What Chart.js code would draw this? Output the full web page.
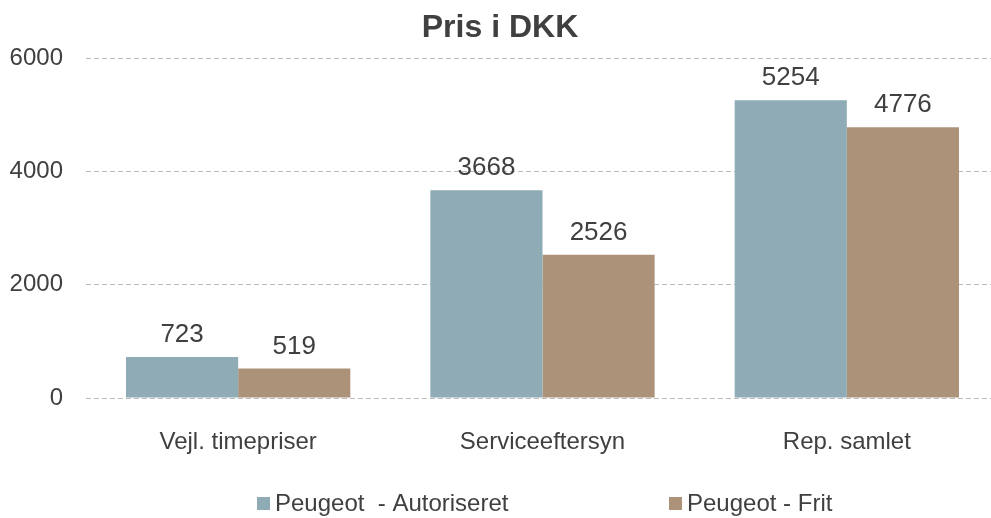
<!DOCTYPE html>
<html>
<head>
<meta charset="utf-8">
<script src="https://cdn.jsdelivr.net/npm/chart.js@4"></script>
<style>
html,body{margin:0;padding:0;overflow:hidden;background:#fff;width:991px;height:518px;}
#wrap{width:1000px;height:518px;}
</style>
</head>
<body>
<div id="wrap"><canvas id="c" width="1000" height="518"></canvas></div>
<script>
const chartTitle = 'Pris i DKK';
const categories = ['Vejl. timepriser', 'Serviceeftersyn', 'Rep. samlet'];
const seriesNames = ['Peugeot  - Autoriseret', 'Peugeot - Frit'];
const autoriseret = [723, 3668, 5254];
const frit = [519, 2526, 4776];
const yTicks = [0, 2000, 4000, 6000];

const FONT = "'Liberation Sans', Arial, sans-serif";
const TEXT = '#404040';
const colors = ['#8eabb6', '#ad927a'];

const overlay = {
  id: 'overlay',
  afterDatasetsDraw(chart) {
    const ctx = chart.ctx;
    ctx.save();
    ctx.fillStyle = TEXT;
    ctx.font = '26px ' + FONT;
    ctx.textAlign = 'center';
    ctx.textBaseline = 'alphabetic';
    chart.data.datasets.forEach((ds, i) => {
      chart.getDatasetMeta(i).data.forEach((bar, j) => {
        ctx.fillText(String(ds.data[j]), bar.x, bar.y - 15);
      });
    });
    ctx.restore();
  },
  afterDraw(chart) {
    const ctx = chart.ctx;
    ctx.save();
    ctx.fillStyle = TEXT;
    ctx.font = 'bold 32px ' + FONT;
    ctx.textAlign = 'center';
    ctx.textBaseline = 'middle';
    ctx.fillText(chartTitle, 500, 28);
    const starts = [257, 669];
    ctx.font = '24px ' + FONT;
    ctx.textAlign = 'left';
    chart.data.datasets.forEach((ds, i) => {
      ctx.fillStyle = ds.backgroundColor;
      ctx.fillRect(starts[i], 497, 13, 13);
      ctx.fillStyle = TEXT;
      ctx.fillText(ds.label, starts[i] + 18, 504);
    });
    ctx.restore();
  }
};

new Chart(document.getElementById('c'), {
  type: 'bar',
  data: {
    labels: categories,
    datasets: [
      { label: seriesNames[0], data: autoriseret, backgroundColor: colors[0] },
      { label: seriesNames[1], data: frit, backgroundColor: colors[1] }
    ]
  },
  options: {
    responsive: false,
    animation: false,
    devicePixelRatio: 1,
    layout: { padding: { top: 58, left: 1, right: 1, bottom: 0 } },
    plugins: { legend: { display: false }, title: { display: false }, tooltip: { enabled: false } },
    datasets: { bar: { categoryPercentage: 0.737, barPercentage: 1 } },
    scales: {
      x: {
        grid: { display: false },
        border: { display: false },
        ticks: { color: TEXT, font: { family: FONT, size: 24 }, padding: 22 },
        afterFit(s) { s.height = 120; }
      },
      y: {
        min: 0, max: 6000,
        afterBuildTicks(s) { s.ticks = yTicks.map(v => ({ value: v })); },
        grid: { color: '#bcbcbc', lineWidth: 1, drawTicks: false },
        border: { display: false, dash: [5, 3] },
        ticks: { color: TEXT, font: { family: FONT, size: 24 }, padding: 23, callback: v => String(v) },
        afterFit(s) { s.width = 85; }
      }
    }
  },
  plugins: [overlay]
});
</script>
</body>
</html>
